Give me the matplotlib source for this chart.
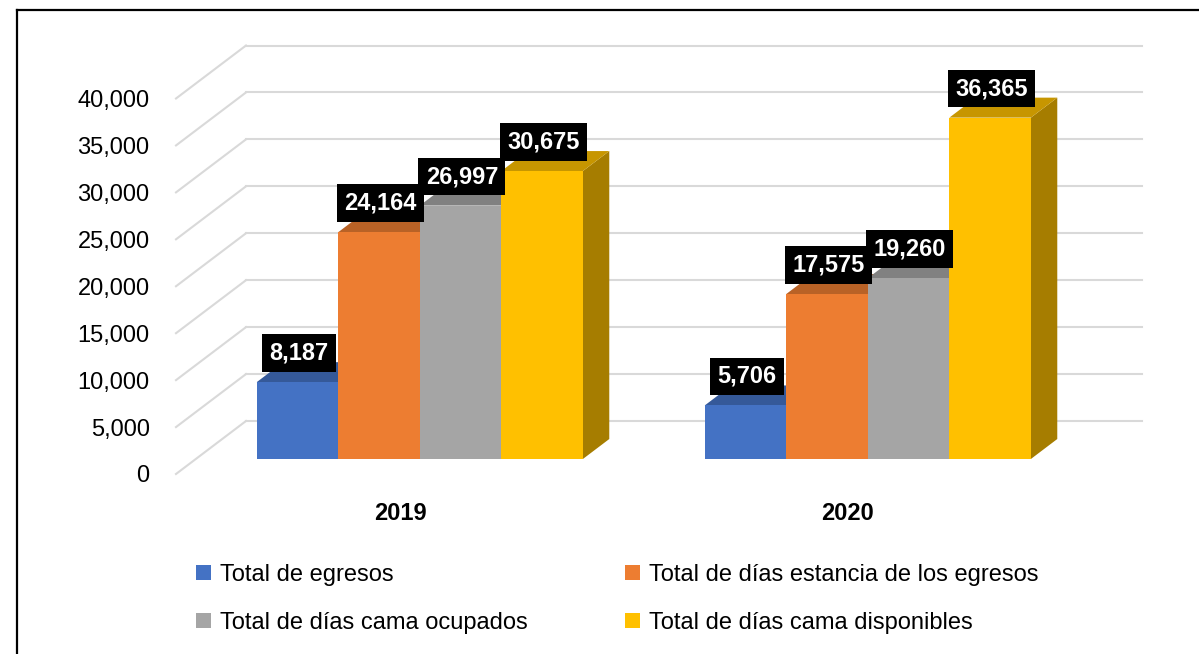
import matplotlib
matplotlib.use("Agg")
import matplotlib.pyplot as plt
from matplotlib.patches import Polygon, Patch
from matplotlib.lines import Line2D
from matplotlib import font_manager as fm
import numpy as np

# ---- data ----
years = ["2019", "2020"]
series = ["Total de egresos",
          "Total de días estancia de los egresos",
          "Total de días cama ocupados",
          "Total de días cama disponibles"]
egresos = [8187, 5706]
estancia = [24164, 17575]
ocupados = [26997, 19260]
disponibles = [30675, 36365]
yticks = [0, 5000, 10000, 15000, 20000, 25000, 30000, 35000, 40000]

values = [egresos, estancia, ocupados, disponibles]
colors = ["#4472C4", "#ED7D31", "#A5A5A5", "#FFC000"]

names = {f.name for f in fm.fontManager.ttflist}
regular = "Liberation Sans" if "Liberation Sans" in names else "DejaVu Sans"
narrow = "Liberation Sans Narrow" if "Liberation Sans Narrow" in names else regular
is_narrow = narrow != regular


def shade(c, k):
    r, g, b = matplotlib.colors.to_rgb(c)
    return (r * k, g * k, b * k)


W, H = 1199, 654
fig = plt.figure(figsize=(W / 100, H / 100), dpi=100)

# pixel geometry of the reference
PX_C0 = 400.0      # pixel x of category 0 centre (front plane)
PX_STEP = 448.0    # pixels per category
PY_0 = 474.0       # pixel y of value 0 (front plane)
PX_PER_V = 375.5 / 40000.0

left_px, right_px, top_px, bot_px = 176, 1145, 30, 487
ax = fig.add_axes([left_px / W, 1 - bot_px / H, (right_px - left_px) / W, (bot_px - top_px) / H])
ax.set_xlim(-0.5 + (left_px - PX_C0 + 0.5 * PX_STEP) / PX_STEP,
            -0.5 + (right_px - PX_C0 + 0.5 * PX_STEP) / PX_STEP)
ax.set_ylim((PY_0 - bot_px) / PX_PER_V, (PY_0 - top_px) / PX_PER_V)

# depth vector (full depth of the plot box) in data units
DX = 70.0 / PX_STEP
DY = 53.0 / PX_PER_V
F0, F1 = 0.283, 0.66   # bar front / back depth fractions

for s in ax.spines.values():
    s.set_visible(False)

# gridlines: back wall + left wall diagonals
x_left = -0.5
x_right = 1.5
for v in yticks:
    ax.plot([x_left, x_left + DX], [v, v + DY], color="#d9d9d9", lw=1.5, zorder=1, clip_on=False)
    ax.plot([x_left + DX, x_right + DX], [v + DY, v + DY], color="#d9d9d9", lw=1.5, zorder=1, clip_on=False)

lab_size = 20 if is_narrow else 17
tick_size = 20 if is_narrow else 17

# bars
bw = 0.182
n = len(values)
for gi in range(len(years)):
    for si in range(n):
        v = values[si][gi]
        x0 = gi - n * bw / 2 + si * bw
        x1 = x0 + bw
        ox0, oy0 = F0 * DX, F0 * DY
        ddx, ddy = (F1 - F0) * DX, (F1 - F0) * DY
        col = colors[si]
        front = [(x0 + ox0, oy0), (x1 + ox0, oy0), (x1 + ox0, v + oy0), (x0 + ox0, v + oy0)]
        top = [(x0 + ox0, v + oy0), (x1 + ox0, v + oy0), (x1 + ox0 + ddx, v + oy0 + ddy),
               (x0 + ox0 + ddx, v + oy0 + ddy)]
        side = [(x1 + ox0, oy0), (x1 + ox0 + ddx, oy0 + ddy), (x1 + ox0 + ddx, v + oy0 + ddy),
                (x1 + ox0, v + oy0)]
        z = 2 + gi * 10 + si
        ax.add_patch(Polygon(side, closed=True, facecolor=shade(col, 0.65), edgecolor="none", zorder=z, clip_on=False))
        ax.add_patch(Polygon(top, closed=True, facecolor=shade(col, 0.78), edgecolor="none", zorder=z, clip_on=False))
        ax.add_patch(Polygon(front, closed=True, facecolor=col, edgecolor="none", zorder=z, clip_on=False))
        ax.annotate(f"{v:,}", xy=((x0 + x1) / 2 + ox0, v + oy0), xytext=(1, 29 * 0.72),
                    textcoords="offset points", ha="center", va="center",
                    fontsize=lab_size, fontweight="bold", color="white", family=narrow,
                    bbox=dict(boxstyle="square,pad=0.31", fc="black", ec="none"),
                    zorder=100 + si, annotation_clip=False)

ax.set_yticks(yticks)
ax.set_yticklabels([f"{t:,}" for t in yticks], fontsize=tick_size, family=narrow)
ax.set_xticks(range(len(years)))
ax.set_xticklabels(years, fontsize=tick_size, fontweight="bold", family=narrow)
ax.tick_params(axis="y", length=0, pad=19)
ax.tick_params(axis="x", length=0, pad=11)

# legend
handles = [Patch(facecolor=colors[0]), Patch(facecolor=colors[2]),
           Patch(facecolor=colors[1]), Patch(facecolor=colors[3])]
labels = [series[0], series[2], series[1], series[3]]
fig.legend(handles, labels, ncol=2, loc="upper left",
           bbox_to_anchor=(196 / W, 1 - 564 / H), frameon=False,
           prop=dict(family=regular, size=17),
           handlelength=0.62, handleheight=0.62, handletextpad=0.38,
           columnspacing=4.15, labelspacing=1.1, borderpad=0, borderaxespad=0)

# outer frame (top and left edges visible in the reference)
fig.add_artist(Line2D([17 / W, 1.0], [1 - 10 / H, 1 - 10 / H], color="black", lw=1.6,
                      transform=fig.transFigure))
fig.add_artist(Line2D([17 / W, 17 / W], [0, 1 - 10 / H], color="black", lw=1.6,
                      transform=fig.transFigure))

fig.savefig("out.png", dpi=100, facecolor="white")
